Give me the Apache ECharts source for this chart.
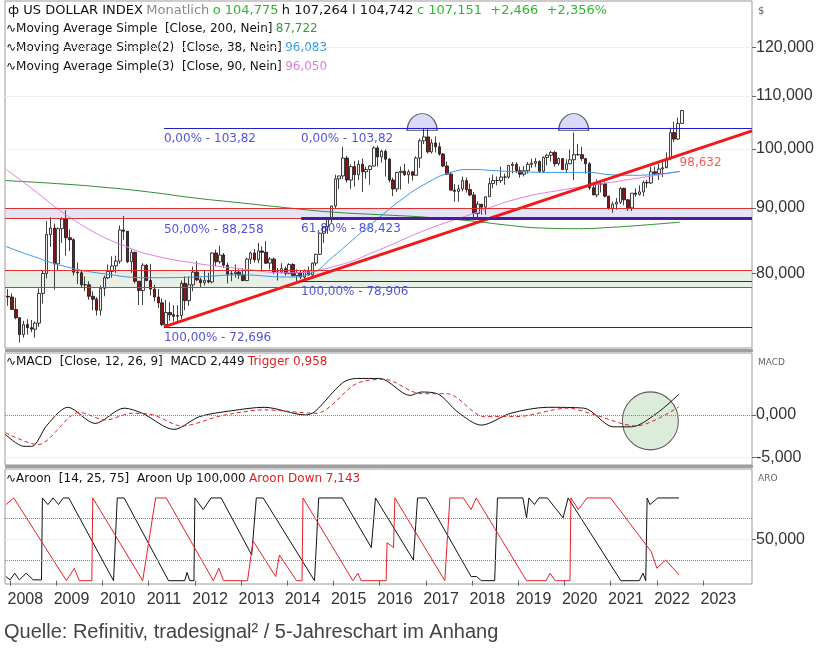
<!DOCTYPE html>
<html>
<head>
<meta charset="utf-8">
<script src="https://cdn.jsdelivr.net/npm/echarts@6/dist/echarts.min.js"></script>
<style>
  html, body { margin: 0; padding: 0; background: #fff; }
  #chart { width: 820px; height: 656px; }
</style>
</head>
<body>
<div id="chart"></div>
<script>
// US Dollar Index, Monatschart mit MA, MACD, Aroon
// Monatskerzen ab Dez 2007 (Schlusskurse, Hochs, Tiefs)
const firstMonth = 2007 + 11.5 / 12;
const firstOpen = 76.8;
const closes = [
  76.7,
  75.0, 73.9, 71.7, 73.0, 72.6, 72.4, 73.2, 77.2, 80.0, 85.8, 86.8, 81.4,
  86.7, 88.2, 85.3, 85.0, 80.2, 80.1, 78.4, 78.4, 76.8, 76.4, 74.9, 77.9,
  79.4, 80.3, 81.1, 81.8, 86.5, 86.3, 81.7, 83.1, 78.9, 77.6, 81.2, 79.0,
  77.8, 76.7, 75.9, 73.0, 74.6, 74.3, 74.1, 74.2, 78.6, 76.2, 78.4, 80.2,
  79.1, 78.7, 79.0, 78.8, 83.0, 81.7, 82.7, 81.2, 79.9, 80.0, 80.2, 79.8,
  79.0, 82.1, 83.0, 82.0, 83.3, 83.1, 81.5, 82.1, 80.2, 80.2, 80.7, 80.0,
  81.3, 79.7, 80.1, 79.5, 80.4, 79.8, 81.5, 82.8, 86.0, 87.0, 88.4, 90.3,
  94.8, 95.3, 98.4, 94.6, 96.9, 95.5, 97.3, 96.0, 96.4, 97.0, 100.2, 98.6,
  99.6, 98.2, 94.6, 93.1, 95.9, 96.1, 95.5, 96.0, 95.4, 98.4, 101.5, 102.2,
  99.5, 101.1, 100.4, 99.1, 97.0, 95.6, 92.9, 92.7, 93.1, 94.5, 93.0, 92.1,
  89.1, 90.6, 90.1, 91.8, 94.0, 94.5, 94.5, 95.1, 95.1, 97.1, 97.3, 96.2,
  95.6, 96.2, 97.3, 97.5, 97.8, 96.1, 98.5, 98.9, 99.4, 97.4, 98.3, 96.4,
  97.4, 98.1, 99.0, 99.0, 98.3, 97.4, 93.3, 92.1, 93.9, 94.0, 91.9, 89.9,
  90.6, 90.9, 93.2, 91.3, 90.0, 92.4, 92.2, 92.6, 94.2, 94.1, 96.0, 95.7,
  96.5, 96.7, 98.3, 103.0, 101.8, 104.7, 107.15
];
const highs = [
  77.8,
  77.2, 76.6, 74.0, 73.5, 73.7, 73.6, 73.4, 77.9, 80.4, 87.9, 88.5, 87.5,
  86.9, 88.5, 89.6, 86.6, 85.2, 81.6, 80.5, 79.6, 78.9, 77.5, 76.7, 78.3,
  79.7, 81.3, 82.5, 82.6, 87.2, 88.7, 86.2, 83.5, 83.2, 78.9, 81.5, 81.4,
  81.4, 78.4, 77.8, 76.5, 76.3, 76.0, 75.6, 75.6, 79.0, 79.6, 79.6, 81.0,
  81.8, 79.4, 80.4, 80.1, 83.1, 83.5, 84.1, 83.0, 81.6, 80.4, 81.3, 80.6,
  80.7, 82.3, 83.2, 83.6, 84.5, 84.0, 84.8, 82.4, 82.3, 80.8, 81.5, 81.0,
  81.5, 81.5, 80.6, 80.5, 80.6, 81.0, 81.6, 82.9, 86.1, 86.9, 88.4, 90.3,
  95.5, 95.3, 100.4, 98.8, 97.3, 97.9, 98.0, 98.3, 96.9, 97.2, 100.5, 100.6,
  99.9, 99.9, 98.4, 95.0, 96.0, 96.9, 97.4, 96.4, 96.1, 98.7, 101.9, 103.8,
  103.8, 101.8, 102.3, 101.2, 99.3, 97.8, 96.0, 93.9, 93.8, 95.2, 95.0, 94.0,
  92.6, 91.1, 90.6, 91.9, 95.0, 95.5, 95.2, 96.9, 95.7, 97.2, 97.7, 97.7,
  96.9, 97.0, 97.7, 98.3, 98.4, 98.0, 98.7, 99.1, 99.7, 99.7, 98.5, 98.3,
  98.2, 99.9, 103.0, 100.9, 100.4, 98.2, 97.7, 93.9, 94.7, 94.3, 94.3, 92.0,
  91.0, 91.6, 93.4, 93.3, 91.4, 92.4, 93.2, 93.7, 94.5, 94.6, 96.9, 96.9,
  97.4, 97.7, 99.4, 103.9, 105.0, 105.8, 107.26
];
const lows = [
  75.5,
  75.0, 73.7, 70.7, 71.3, 71.7, 72.0, 71.3, 72.7, 75.8, 79.3, 83.9, 77.7,
  80.4, 84.5, 82.6, 83.3, 79.7, 78.5, 78.1, 77.5, 76.3, 74.9, 74.2, 74.2,
  76.8, 79.2, 79.4, 80.1, 81.4, 85.0, 81.5, 80.1, 78.6, 75.6, 75.6, 78.9,
  76.9, 76.1, 75.2, 72.8, 72.7, 73.5, 73.4, 73.4, 73.7, 74.9, 75.5, 77.5,
  78.9, 78.1, 78.3, 78.6, 78.6, 81.1, 81.4, 80.8, 78.6, 78.9, 79.4, 79.2,
  78.9, 78.9, 81.4, 81.6, 81.5, 80.5, 81.4, 80.6, 79.9, 79.0, 80.0, 79.7,
  79.9, 79.6, 78.9, 79.2, 78.9, 79.7, 79.7, 81.1, 82.7, 84.5, 85.9, 87.6,
  89.9, 93.1, 94.8, 94.2, 93.1, 93.5, 94.6, 92.6, 94.8, 93.8, 96.9, 96.9,
  97.6, 95.2, 94.2, 91.9, 92.6, 93.0, 95.3, 94.0, 94.5, 95.4, 96.7, 100.9,
  99.2, 99.2, 99.4, 98.8, 96.8, 95.5, 92.9, 91.0, 91.0, 92.7, 92.5, 91.9,
  88.4, 88.2, 88.9, 88.9, 91.8, 93.2, 93.7, 94.1, 93.8, 94.8, 95.7, 95.8,
  95.0, 95.2, 95.7, 96.7, 96.8, 95.8, 95.8, 97.1, 97.8, 96.9, 97.1, 96.3,
  95.8, 97.3, 94.6, 98.8, 97.9, 95.7, 92.9, 92.1, 91.7, 92.5, 91.7, 89.7,
  89.2, 89.7, 90.6, 90.4, 89.5, 89.5, 91.8, 92.0, 91.9, 93.3, 93.9, 95.5,
  94.6, 95.1, 96.9, 98.0, 101.3, 101.6, 104.74
];

// gleitende Durchschnitte [Jahr, Wert]
const ma200 = [[2007.9, 94.5], [2009, 94.0], [2010, 93.4], [2011, 92.6], [2012, 91.6], [2013, 90.8],
  [2014, 90.0], [2015, 89.3], [2016, 88.9], [2017, 88.5], [2018, 87.9], [2018.7, 87.3], [2019.5, 86.8],
  [2020.3, 86.7], [2021, 86.9], [2021.8, 87.3], [2022.5, 87.72]];
const ma38 = [[2007.9, 84.0], [2008.5, 82.5], [2009.2, 81.0], [2010, 80.0], [2011, 79.4], [2012, 79.5],
  [2013, 79.8], [2014, 79.5], [2014.5, 80.0], [2015, 82.5], [2015.5, 85.5], [2016, 88.5], [2016.5, 91.5],
  [2017, 94.0], [2017.5, 95.8], [2018, 96.4], [2018.5, 96.2], [2019, 96.0], [2020, 95.9], [2020.5, 95.9],
  [2021, 95.5], [2021.5, 95.4], [2022.5, 96.08]];
const ma90 = [[2007.9, 96.5], [2008.5, 93.0], [2009, 90.0], [2009.5, 87.5], [2010, 85.5], [2010.5, 84.0],
  [2011, 82.8], [2012, 81.5], [2013, 80.7], [2014, 80.1], [2015, 81.0], [2016, 83.5], [2017, 86.5],
  [2018, 89.0], [2019, 91.5], [2020, 93.0], [2021, 94.2], [2022.5, 96.05]];

// Fibonacci-Niveaus und Trendlinie
const fibTop = 103.82, fibBottom = 72.696, fib50 = 88.258, fib618 = 88.423, fib100b = 78.906;
const fibStartA = 2011.33, fibStartB = 2014.3;
const trendLine = [[2011.33, 72.696], [2024.06, 103.3]];
const tops = [[2016.92, 103.82], [2020.2, 103.82]];

// MACD / Trigger
const macd = [[2007.9, -2.3], [2008.3, -3.7], [2008.47, -3.7], [2008.8, -1.2], [2009.25, 0.9], [2009.84, -1.0],
  [2010.47, 0.8], [2010.86, 0.2], [2011.55, -1.7], [2012.1, -0.2], [2012.8, 0.5], [2013.5, 0.9], [2014.4, 0.0],
  [2014.6, 0.4], [2015.2, 3.8], [2015.5, 4.3], [2016.0, 4.3], [2016.66, 2.3], [2016.9, 2.7], [2017.25, 2.5],
  [2017.7, 0.3], [2018.2, -1.2], [2018.84, 0.2], [2019.64, 0.9], [2020.42, 0.8], [2021.06, -1.4],
  [2021.45, -1.4], [2022.0, 0.2], [2022.48, 2.45]];
const trigger = [[2007.9, -2.1], [2008.6, -3.5], [2009.5, 0.3], [2010.07, -0.6], [2010.64, 0.2], [2011.1, 0.0],
  [2011.72, -1.3], [2012.57, -0.1], [2013.5, 0.6], [2014.62, 0.2], [2015.5, 3.7], [2016.1, 4.2], [2016.9, 2.5],
  [2017.46, 2.5], [2018.27, -0.2], [2018.95, -0.2], [2020.08, 0.8], [2020.66, 0.0], [2021.55, -1.3],
  [2022.48, 0.96]];
const macdCircle = [[2021.86, -0.7]];

// Aroon Up / Down
const aroonUp = [[2007.91, 5], [2008.0, 1], [2008.1, 9], [2008.2, 1], [2008.35, 9], [2008.5, 1], [2008.68, 1],
  [2008.7, 100], [2008.82, 92], [2008.93, 100], [2009.05, 92], [2009.15, 100], [2009.27, 100], [2010.24, 0],
  [2010.32, 100], [2010.47, 100], [2011.43, 0], [2011.78, 0], [2011.83, 10], [2011.89, 0], [2011.98, 0],
  [2012.0, 100], [2012.18, 86], [2012.35, 100], [2012.57, 100], [2013.23, 31], [2013.33, 100], [2013.48, 100],
  [2014.59, 0], [2014.68, 100], [2015.19, 100], [2015.82, 40], [2015.91, 100], [2016.73, 25], [2016.82, 100],
  [2017.01, 100], [2017.98, 5], [2018.1, 5], [2018.2, 0], [2018.49, 0], [2018.55, 100], [2019.1, 100],
  [2019.18, 76], [2019.23, 100], [2019.35, 92], [2019.45, 100], [2019.63, 100], [2019.97, 76], [2020.08, 100],
  [2021.22, 0], [2021.62, 0], [2021.7, 9], [2021.76, 0], [2021.79, 100], [2021.85, 92], [2022.02, 100],
  [2022.48, 100]];
const aroonDown = [[2007.91, 92], [2008.08, 100], [2009.22, 0], [2009.39, 15], [2009.5, 0], [2009.77, 0],
  [2009.79, 100], [2010.87, 0], [2011.15, 100], [2011.38, 100], [2012.4, 0], [2012.52, 15], [2012.62, 0],
  [2013.14, 0], [2013.26, 48], [2013.75, 5], [2013.83, 31], [2014.2, 0], [2014.32, 0], [2014.34, 100],
  [2015.42, 0], [2015.53, 9], [2015.6, 0], [2016.14, 0], [2016.16, 46], [2016.3, 40], [2016.33, 100],
  [2017.41, 0], [2017.52, 100], [2017.81, 100], [2017.98, 86], [2018.09, 100], [2019.18, 0], [2019.6, 0],
  [2019.69, 9], [2019.8, 0], [2020.12, 0], [2020.14, 100], [2020.3, 86], [2020.49, 100], [2021.0, 100],
  [2021.88, 35], [2022.0, 15], [2022.19, 25], [2022.48, 7]];

const years = [2008, 2009, 2010, 2011, 2012, 2013, 2014, 2015, 2016, 2017, 2018, 2019, 2020, 2021, 2022, 2023];
const priceTicks = [80, 90, 100, 110, 120];
const macdTicks = [-5, 0];
const aroonTicks = [50];

const X_MIN = 2007.89, X_MAX = 2024.06;
const fmt = (v) => v.toFixed(3).replace('.', ',');
const candles = closes.map((c, i) => [firstMonth + i / 12, i ? closes[i - 1] : firstOpen, c, lows[i], highs[i]]);

const chart = echarts.init(document.getElementById('chart'), null, { renderer: 'canvas' });
const FONT = 'DejaVu Sans';
const NARROW = 'Liberation Sans Narrow, Liberation Sans';
const DOT = { show: true, lineStyle: { color: '#e2e2e2', type: 'dotted' } };
const xAx = (gi, last) => ({
  type: 'value', gridIndex: gi, min: X_MIN, max: X_MAX,
  axisLine: { show: false },
  axisTick: last ? { show: true, customValues: years, length: 5, lineStyle: { color: '#666' } } : { show: false },
  axisLabel: last ? { show: true, customValues: years.map((y) => y + 0.33), formatter: (v) => String(Math.floor(v)),
    color: '#333', fontFamily: NARROW, fontSize: 16, margin: 8 } : { show: false },
  splitLine: { show: false },
});
const yAx = (gi, type, min, max, ticks) => ({
  type, gridIndex: gi, position: 'right', min, max,
  axisLine: { show: false },
  axisTick: { show: true, customValues: ticks, length: 4, lineStyle: { color: '#666' } },
  axisLabel: { customValues: ticks, color: '#333', fontFamily: NARROW, fontSize: 16, formatter: fmt, margin: 4 },
  splitLine: DOT,
});

const hline = (y, x0, x1, color, width) => [{ coord: [x0, y], lineStyle: { color, width: width || 1, type: 'solid' } }, { coord: [x1, y] }];
const fibLabels = [
  [fibStartA, fibTop, '0,00% - 103,82'], [fibStartB, fibTop, '0,00% - 103,82'],
  [fibStartA, fib50, '50,00% - 88,258'], [fibStartB, fib618, '61,80% - 88,423'],
  [fibStartB, fib100b, '100,00% - 78,906'], [fibStartA, fibBottom, '100,00% - 72,696'],
];

chart.setOption({
  animation: false,
  backgroundColor: '#fff',
  grid: [
    { left: 5, right: 68, top: 1, height: 347, show: true, borderColor: '#999', borderWidth: 1 },
    { left: 5, right: 68, top: 353, height: 112, show: true, borderColor: '#999', borderWidth: 1 },
    { left: 5, right: 68, top: 469, height: 115, show: true, borderColor: '#999', borderWidth: 1 },
  ],
  xAxis: [xAx(0, false), xAx(1, false), xAx(2, true)],
  yAxis: [
    Object.assign(yAx(0, 'log', 70, 130.4, priceTicks), { logBase: 10 }),
    yAx(1, 'value', -5.9, 7.3, macdTicks),
    yAx(2, 'value', -4, 135, aroonTicks),
  ],
  series: [
    {
      type: 'line', xAxisIndex: 0, yAxisIndex: 0, data: [], silent: true,
      markArea: { silent: true, data: [
        [{ coord: [X_MIN, 89.9], itemStyle: { color: 'rgba(205,205,240,0.55)' } }, { coord: [X_MAX, 88.3] }],
        [{ coord: [X_MIN, 80.4], itemStyle: { color: 'rgba(215,228,215,0.6)' } }, { coord: [X_MAX, 78.1] }],
      ] },
      markLine: { silent: true, symbol: 'none', label: { show: false }, data: [
        hline(fibTop, fibStartA, X_MAX, '#2020d0'),
        hline(fibBottom, fibStartA, X_MAX, '#2020d0'),
        hline(89.9, X_MIN, X_MAX, '#e03030'),
        hline(88.3, X_MIN, fibStartB, '#e03030'),
        hline(88.3, fibStartB, X_MAX, '#4a1aa0', 3),
        hline(80.4, X_MIN, X_MAX, '#e03030'),
        hline(78.1, X_MIN, X_MAX, '#e03030'),
        hline(fib100b, fibStartB, X_MAX, '#2020d0'),
      ] },
    },
    { type: 'line', xAxisIndex: 0, yAxisIndex: 0, data: ma200, smooth: true, symbol: 'none', lineStyle: { color: '#2f8f2f', width: 1 } },
    { type: 'line', xAxisIndex: 0, yAxisIndex: 0, data: ma90, smooth: true, symbol: 'none', lineStyle: { color: '#e07ee0', width: 1 } },
    { type: 'line', xAxisIndex: 0, yAxisIndex: 0, data: ma38, smooth: true, symbol: 'none', lineStyle: { color: '#3898e8', width: 1 } },
    {
      type: 'candlestick', xAxisIndex: 0, yAxisIndex: 0, data: candles, barWidth: 3,
      encode: { x: 0, y: [1, 2, 3, 4] },
      itemStyle: { color: '#f4f4f4', color0: '#8b1414', borderColor: '#111', borderColor0: '#111', borderWidth: 0.8 },
    },
    { type: 'line', xAxisIndex: 0, yAxisIndex: 0, data: trendLine, symbol: 'none', lineStyle: { color: '#f01818', width: 3 } },
    {
      type: 'scatter', xAxisIndex: 0, yAxisIndex: 0, data: tops, z: 1,
      symbol: 'path://M0,10 A10,10 0 0 1 20,10 Z', symbolSize: [30, 17], symbolOffset: [0, -6],
      itemStyle: { color: 'rgba(200,200,245,0.85)', borderColor: '#333', borderWidth: 1 },
    },
    {
      type: 'scatter', xAxisIndex: 0, yAxisIndex: 0, symbolSize: 0, silent: true,
      data: fibLabels.map((d) => ({ value: [d[0], d[1]], name: d[2] })),
      label: { show: true, position: 'right', distance: 0, offset: [0, 11], formatter: (p) => p.name,
        color: '#2828c8', fontFamily: FONT, fontSize: 12 },
    },
    {
      type: 'scatter', xAxisIndex: 0, yAxisIndex: 0, symbolSize: 0, silent: true,
      data: [{ value: [2022.45, 97.6], name: '98,632' }],
      label: { show: true, position: 'right', distance: 2, formatter: (p) => p.name, color: '#f03030', fontFamily: FONT, fontSize: 12 },
    },
    // MACD
    {
      type: 'scatter', xAxisIndex: 1, yAxisIndex: 1, data: macdCircle, symbolSize: [56, 58], z: 1,
      itemStyle: { color: 'rgba(205,228,205,0.9)', borderColor: '#333', borderWidth: 1 },
    },
    {
      type: 'line', xAxisIndex: 1, yAxisIndex: 1, data: macd, smooth: 0.3, symbol: 'none', lineStyle: { color: '#111', width: 1 },
      markLine: { silent: true, symbol: 'none', label: { show: false },
        lineStyle: { color: '#3898e8', type: 'dotted', width: 1 }, data: [{ yAxis: 0 }] },
    },
    { type: 'line', xAxisIndex: 1, yAxisIndex: 1, data: trigger, smooth: 0.3, symbol: 'none', lineStyle: { color: '#e02020', width: 1, type: [4, 3] } },
    // Aroon
    {
      type: 'line', xAxisIndex: 2, yAxisIndex: 2, data: aroonUp, symbol: 'none', lineStyle: { color: '#111', width: 1 },
      markLine: { silent: true, symbol: 'none', label: { show: false },
        lineStyle: { color: '#3898e8', type: 'dotted', width: 1 }, data: [{ yAxis: 25 }, { yAxis: 75 }] },
    },
    { type: 'line', xAxisIndex: 2, yAxisIndex: 2, data: aroonDown, symbol: 'none', lineStyle: { color: '#e8202a', width: 1 } },
  ],
  graphic: [
    { type: 'rect', shape: { x: 5, y: 349, width: 748, height: 3 }, style: { fill: '#a0a0a0' } },
    { type: 'rect', shape: { x: 5, y: 465, width: 748, height: 3 }, style: { fill: '#a0a0a0' } },
    { type: 'text', left: 8, top: 4, style: {
      text: '{b|ф US DOLLAR INDEX} {g|Monatlich} {gr|o 104,775} {b|h 107,264 l 104,742} {gr|c 107,151  +2,466  +2,356%}',
      rich: { b: { fill: '#111', fontSize: 13, fontFamily: FONT }, g: { fill: '#888', fontSize: 13, fontFamily: FONT },
        gr: { fill: '#2fb82f', fontSize: 13, fontFamily: FONT } } } },
    { type: 'text', left: 6, top: 23, style: { text: '{b|∿Moving Average Simple  [Close, 200, Nein]} {v|87,722}',
      rich: { b: { fill: '#111', fontSize: 12, fontFamily: FONT }, v: { fill: '#3a9a3a', fontSize: 12, fontFamily: FONT } } } },
    { type: 'text', left: 6, top: 42, style: { text: '{b|∿Moving Average Simple(2)  [Close, 38, Nein]} {v|96,083}',
      rich: { b: { fill: '#111', fontSize: 12, fontFamily: FONT }, v: { fill: '#3898e8', fontSize: 12, fontFamily: FONT } } } },
    { type: 'text', left: 6, top: 61, style: { text: '{b|∿Moving Average Simple(3)  [Close, 90, Nein]} {v|96,050}',
      rich: { b: { fill: '#111', fontSize: 12, fontFamily: FONT }, v: { fill: '#e07ee0', fontSize: 12, fontFamily: FONT } } } },
    { type: 'text', left: 6, top: 356, style: { text: '{b|∿MACD  [Close, 12, 26, 9]  MACD 2,449} {r|Trigger 0,958}',
      rich: { b: { fill: '#111', fontSize: 12, fontFamily: FONT }, r: { fill: '#e02020', fontSize: 12, fontFamily: FONT } } } },
    { type: 'text', left: 6, top: 473, style: { text: '{b|∿Aroon  [14, 25, 75]  Aroon Up 100,000} {r|Aroon Down 7,143}',
      rich: { b: { fill: '#111', fontSize: 12, fontFamily: FONT }, r: { fill: '#e02020', fontSize: 12, fontFamily: FONT } } } },
    { type: 'text', left: 758, top: 6, style: { text: '$', fill: '#666', fontSize: 10, fontFamily: FONT } },
    { type: 'text', left: 758, top: 358, style: { text: 'MACD', fill: '#666', fontSize: 9, fontFamily: FONT } },
    { type: 'text', left: 758, top: 474, style: { text: 'ARO', fill: '#666', fontSize: 9, fontFamily: FONT } },
    { type: 'text', left: 4, top: 622, style: { text: 'Quelle: Refinitiv, tradesignal² / 5-Jahreschart im Anhang',
      fill: '#444', fontSize: 20, fontFamily: NARROW } },
  ],
});
</script>
</body>
</html>
